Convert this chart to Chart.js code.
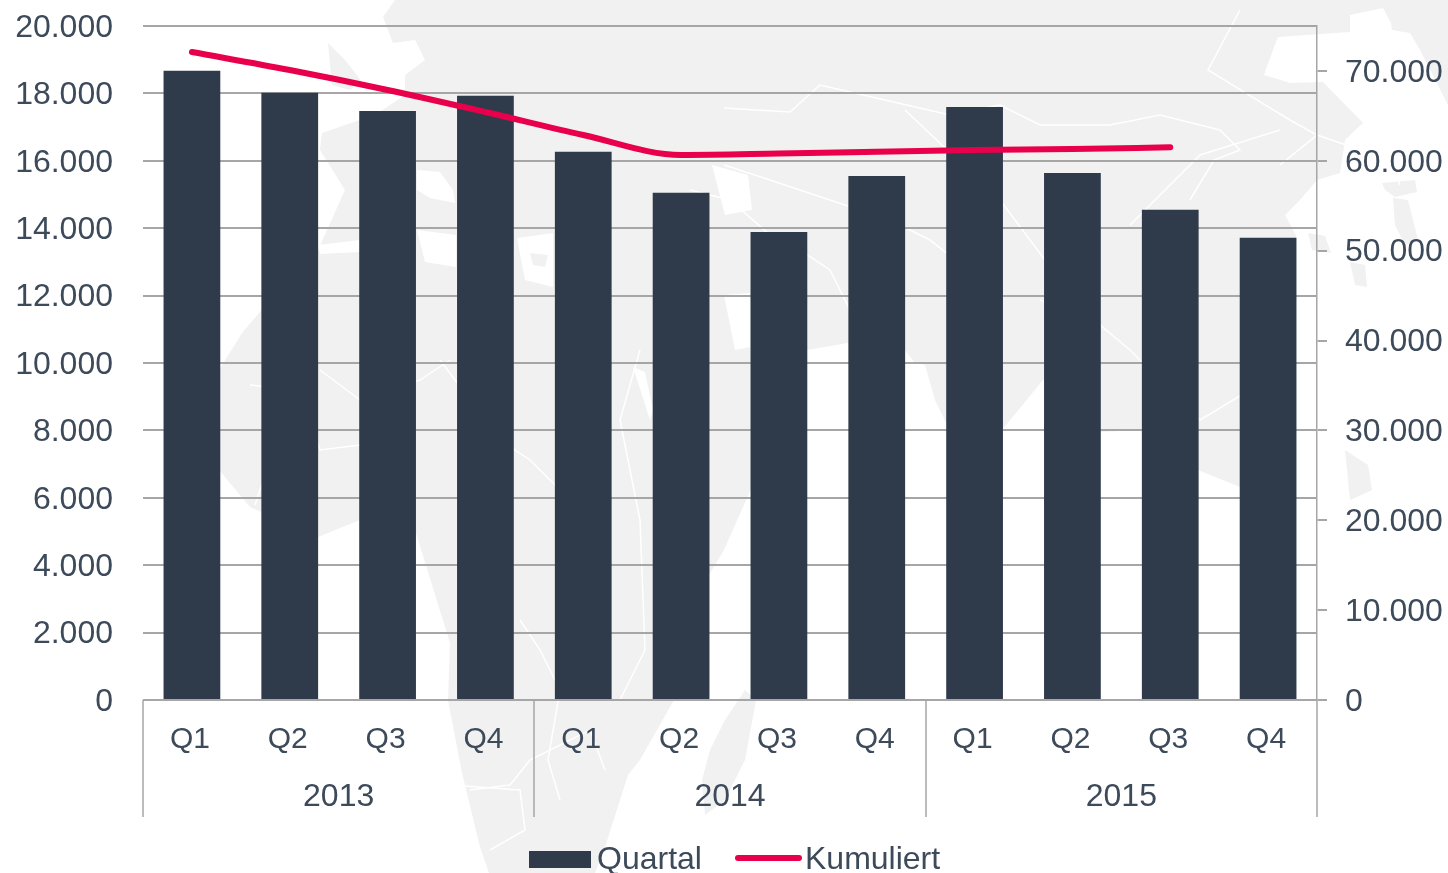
<!DOCTYPE html>
<html lang="de">
<head>
<meta charset="utf-8">
<title>Quartal und Kumuliert</title>
<script src="https://cdn.jsdelivr.net/npm/chart.js@4"></script>
<style>
  html, body { margin: 0; padding: 0; background: #fff; overflow: hidden; }
  #wrap { position: relative; width: 1448px; height: 873px; }
  #map, #chart { position: absolute; left: 0; top: 0; }
</style>
</head>
<body>
<div id="wrap">
  <!-- Weltkarte im Hintergrund, nur Dekoration -->
  <svg id="map" width="1448" height="873" viewBox="0 0 1448 873">
    <g fill="#f1f1f1">
      <!-- Eurasien und Afrika -->
      <path d="M395 0 L1448 0 L1448 105 L1420 50 L1410 33 L1392 30 L1391 23 L1383 8 L1350 15 L1350 32 L1278 37 L1265 72 L1290 83 L1323 82 L1363 123 L1345 140 L1340 173 L1317 180 L1300 200 L1285 215 L1296 235 L1296 420 L1285 470 L1255 497 L1240 487 L1198 470 L1170 440 L1142 430 L1100 432 L1070 400 L1043 380 L1002 430 L985 470 L960 440 L947 425 L922 373 L905 350 L848 343 L807 350 L790 385 L770 440 L755 480 L724 550 L700 590 L690 640 L674 700 L640 760 L628 775 L605 847 L595 873 L489 873 L480 847 L462 773 L448 700 L450 643 L415 530 L360 520 L318 537 L250 507 L219 470 L219 370 L242 333 L300 265 L318 250 L345 190 L320 150 L322 133 L345 125 L375 115 L405 95 L405 75 L425 60 L415 40 L393 43 L383 17 Z"/>
      <!-- Grossbritannien -->
      <path d="M328 43 L345 60 L362 82 L350 90 L332 85 Z"/>
      <!-- Madagaskar -->
      <path d="M745 690 L756 700 L745 760 L725 800 L705 815 L702 780 L710 750 L725 720 Z"/>
      <!-- Inseln rechts -->
      <path d="M1382 183 L1415 180 L1417 192 L1395 197 L1385 190 Z"/>
      <path d="M1393 198 L1408 200 L1418 240 L1405 245 L1395 225 Z"/>
      <path d="M1350 262 L1365 265 L1367 287 L1355 285 Z"/>
      <path d="M1308 233 L1325 236 L1331 253 L1312 250 Z"/>
      <path d="M1345 450 L1368 465 L1372 490 L1350 500 Z"/>
    </g>
    <g fill="#fff">
      <!-- Meere und Seen -->
      <path d="M417 170 L440 172 L453 190 L455 203 L430 198 L417 190 Z"/>
      <path d="M417 230 L456 235 L456 267 L425 262 Z"/>
      <path d="M318 245 L360 240 L360 252 L320 254 Z"/>
      <path d="M517 238 L553 233 L553 287 L525 280 Z"/>
      <path d="M633 367 L645 372 L653 410 L650 420 Z"/>
      <path d="M724 295 L750 293 L750 347 L735 350 Z"/>
      <path d="M905 360 L925 365 L935 400 L905 390 Z"/>
      <path d="M1264 75 L1277 40 L1317 37 L1317 80 L1290 83 Z"/>
      <path d="M712 165 L748 175 L752 210 L725 215 Z"/>
    </g>
    <path fill="#f1f1f1" d="M530 253 L548 255 L545 267 L533 265 Z"/>
    <g fill="none" stroke="#fff" stroke-width="1.5">
      <!-- Grenzlinien -->
      <path d="M1240 10 L1208 70 L1290 120 L1317 135 L1280 165"/>
      <path d="M724 108 L790 112 L820 85 L885 100 L950 115 L1000 105 L1040 125 L1110 125 L1160 115 L1220 130 L1240 150 L1214 160 L1190 200"/>
      <path d="M1317 135 L1390 160 L1400 185"/>
      <path d="M724 165 L770 180 L830 200 L890 220 L930 240 L955 260 L960 320"/>
      <path d="M905 110 L1000 200 L1045 260"/>
      <path d="M690 190 L730 200 L770 235 L800 250 L830 270 L850 310"/>
      <path d="M1040 300 L1100 325 L1130 350 L1200 420 L1250 390"/>
      <path d="M1130 225 L1200 155 L1280 130"/>
      <path d="M440 360 L500 440 L530 460 L570 500 L590 540 L610 570"/>
      <path d="M250 385 L300 390 L320 450 L360 445 L410 470"/>
      <path d="M270 460 L260 490 L255 505"/>
      <path d="M320 370 L360 400 L420 380 L450 360"/>
      <path d="M520 620 L540 650 L560 690 L548 760 L560 800"/>
      <path d="M470 790 L510 785 L530 760 L590 730 L605 770"/>
      <path d="M450 785 L520 790 L525 830 L490 850"/>
      <path d="M640 350 L620 420 L640 520 L645 650 L620 700"/>
    </g>
  </svg>
  <canvas id="chart" width="1448" height="873"></canvas>
</div>
<script>
// Werte
const quartale = ["Q1", "Q2", "Q3", "Q4", "Q1", "Q2", "Q3", "Q4", "Q1", "Q2", "Q3", "Q4"];
const jahre = ["2013", "2014", "2015"];
const werteQuartal = [18670, 18020, 17480, 17930, 16270, 15050, 13890, 15550, 17600, 15640, 14550, 13720];
const werteKumuliert = [72100, 70100, 67880, 65430, 62870, 60650, 60810, 61010, 61200, 61310, 61500, null];
const ticksRechts = [0, 10000, 20000, 30000, 40000, 50000, 60000, 70000];

const textFarbe = "#3d4a5a";
const linienFarbe = "#a6a6a6";
const balkenFarbe = "#2f3b4a";
const rot = "#e8004c";
const schrift = { family: "'Liberation Sans', Arial, sans-serif", size: 32 };
const schriftQuartal = { family: schrift.family, size: 30 };

const formatZahl = v => Number(v).toLocaleString("de-DE");

// Feste Achsenmasse, damit die Zeichenflaeche genau sitzt
const festeBreite = breite => s => {
  s.width = breite;
  s.paddingTop = 0;
  s.paddingBottom = 0;
};
const festeHoehe = hoehe => s => {
  s.height = hoehe;
  s.paddingLeft = 0;
  s.paddingRight = 0;
};

// Trennlinien der Jahre und die eigene Legende
const extras = {
  id: "extras",
  afterDraw(chart) {
    const { ctx, scales } = chart;
    const x = scales.x;
    const schritt = x.getPixelForValue(1) - x.getPixelForValue(0);
    const unten = 817;
    ctx.save();
    ctx.strokeStyle = linienFarbe;
    ctx.lineWidth = 1.5;
    [0, 4, 8, 12].forEach(i => {
      const px = Math.round(x.getPixelForValue(0) + (i - 0.5) * schritt);
      ctx.beginPath();
      ctx.moveTo(px, chart.chartArea.bottom);
      ctx.lineTo(px, unten);
      ctx.stroke();
    });

    const mitte = 860;
    ctx.font = schrift.size + "px " + schrift.family;
    ctx.textBaseline = "middle";
    ctx.fillStyle = balkenFarbe;
    ctx.fillRect(529, 851, 62, 17);
    ctx.fillStyle = textFarbe;
    ctx.fillText(chart.data.datasets[1].label, 597, mitte);
    ctx.strokeStyle = rot;
    ctx.lineWidth = 6;
    ctx.lineCap = "round";
    ctx.beginPath();
    ctx.moveTo(738, 858);
    ctx.lineTo(799, 858);
    ctx.stroke();
    ctx.fillText(chart.data.datasets[0].label, 805, mitte);
    ctx.restore();
  }
};

new Chart(document.getElementById("chart"), {
  data: {
    labels: quartale,
    datasets: [
      {
        type: "line",
        label: "Kumuliert",
        data: werteKumuliert,
        yAxisID: "y1",
        borderColor: rot,
        borderWidth: 6,
        borderCapStyle: "round",
        borderJoinStyle: "round",
        pointRadius: 0,
        cubicInterpolationMode: "monotone",
        order: 1
      },
      {
        type: "bar",
        label: "Quartal",
        data: werteQuartal,
        yAxisID: "y",
        backgroundColor: balkenFarbe,
        categoryPercentage: 1,
        barPercentage: 0.58,
        order: 2
      }
    ]
  },
  plugins: [extras],
  options: {
    responsive: false,
    animation: false,
    layout: { autoPadding: false, padding: { top: 26, bottom: 56, left: 0, right: 0 } },
    plugins: {
      legend: { display: false },
      tooltip: { enabled: false }
    },
    scales: {
      x: {
        position: "bottom",
        grid: { display: false },
        border: { display: false },
        ticks: { color: textFarbe, font: schriftQuartal, padding: 14, labelOffset: -2, maxRotation: 0, autoSkip: false },
        afterFit: festeHoehe(60)
      },
      x2: {
        type: "category",
        labels: jahre,
        position: "bottom",
        offset: true,
        grid: { display: false },
        border: { display: false },
        ticks: { color: textFarbe, font: schrift, padding: 10, maxRotation: 0 },
        afterFit: festeHoehe(57)
      },
      y: {
        position: "left",
        min: 0,
        max: 20000,
        grid: { color: linienFarbe, lineWidth: 2, drawTicks: false },
        border: { display: false },
        ticks: { stepSize: 2000, color: textFarbe, font: schrift, padding: 30, labelOffset: 2, callback: formatZahl },
        afterFit: festeBreite(143)
      },
      y1: {
        position: "right",
        min: 0,
        max: 75000,
        grid: { drawOnChartArea: false, color: linienFarbe, lineWidth: 2, tickLength: 10 },
        border: { display: true, color: linienFarbe, width: 1.5 },
        ticks: { color: textFarbe, font: schrift, padding: 18, labelOffset: 2, callback: formatZahl },
        afterBuildTicks: s => { s.ticks = ticksRechts.map(v => ({ value: v })); },
        afterFit: festeBreite(131)
      }
    }
  }
});
</script>
</body>
</html>
